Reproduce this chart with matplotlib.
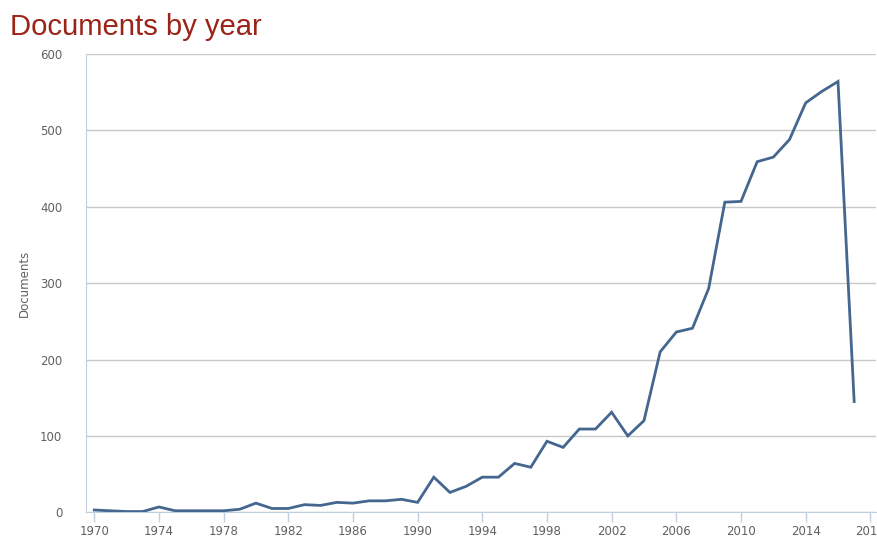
import matplotlib.pyplot as plt

# Documents per year
years = list(range(1970, 2018))
documents = [3, 2, 1, 1, 7, 2, 2, 2, 2, 4,
             12, 5, 5, 10, 9, 13, 12, 15, 15, 17,
             13, 46, 26, 34, 46, 46, 64, 59, 93, 85,
             109, 109, 131, 100, 120, 210, 236, 241, 293, 406,
             407, 459, 465, 488, 536, 551, 564, 145]

x_ticks = list(range(1970, 2019, 4))
y_ticks = [0, 100, 200, 300, 400, 500, 600]

fig = plt.figure(figsize=(8.78, 5.38), dpi=100)
ax = fig.add_axes([86 / 878, 1 - 512.3 / 538, (876 - 86) / 878, (512.3 - 54) / 538])

# Line
ax.plot(years, documents, color='#44668f', linewidth=2, solid_joinstyle='miter')

# Axes limits and ticks
ax.set_xlim(1969.49, 2018.35)
ax.set_ylim(0, 600)
ax.set_xticks(x_ticks)
ax.set_yticks(y_ticks)

# Grid lines and spines
ax.grid(axis='y', color='#c8c8c8', linewidth=1)
ax.set_axisbelow(True)
for side in ['top', 'right']:
    ax.spines[side].set_visible(False)
ax.spines['left'].set_color('#c0d0e0')
ax.spines['bottom'].set_color('#c0d0e0')
ax.spines['bottom'].set_zorder(0.5)

ax.tick_params(axis='x', colors='#c0d0e0', length=7, width=1, labelcolor='#606060',
               labelsize=8.5, pad=2)
ax.tick_params(axis='y', length=0, labelcolor='#606060', labelsize=8.5, pad=17)

ax.set_ylabel('Documents', color='#606060', fontsize=8.5, labelpad=7)

# Title
fig.text(10 / 878, 1 - 27 / 538, 'Documents by year', color='#9b2318',
         fontsize=21.1, family='Liberation Sans', va='center', ha='left')

fig.savefig('out.png', dpi=100)
